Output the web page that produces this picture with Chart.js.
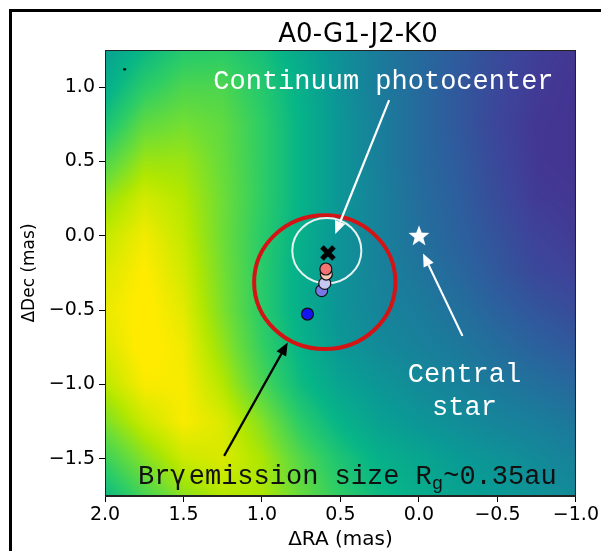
<!DOCTYPE html>
<html>
<head>
<meta charset="utf-8">
<script src="https://cdn.jsdelivr.net/npm/chart.js@4.4.1/dist/chart.umd.min.js"></script>
<style>
  html, body { margin: 0; padding: 0; background: #fff; }
  #wrap { position: relative; width: 601px; height: 551px; }
</style>
</head>
<body>
<div id="wrap"><canvas id="mapa" width="601" height="551"></canvas></div>
<script>
// ---- data ----
const chartTitle = "A0-G1-J2-K0";
const raTicks = [2.0, 1.5, 1.0, 0.5, 0.0, -0.5, -1.0];
const decTicks = [1.0, 0.5, 0.0, -0.5, -1.0, -1.5];

// intensity map nodes (RA columns, Dec rows), normalised 0..1
const mapRA = [2.0, 1.75, 1.5, 1.25, 1.0, 0.75, 0.5, 0.25, 0.0, -0.25, -0.5, -0.75, -1.0];
const mapDec = [1.25, 1.0, 0.75, 0.5, 0.25, 0.0, -0.25, -0.5, -0.75, -1.0, -1.25, -1.5, -1.75];
const mapValues = [
  [0.52, 0.61, 0.68, 0.69, 0.64, 0.55, 0.46, 0.39, 0.33, 0.28, 0.23, 0.19, 0.17],
  [0.57, 0.69, 0.75, 0.75, 0.68, 0.58, 0.47, 0.39, 0.33, 0.27, 0.22, 0.18, 0.16],
  [0.65, 0.78, 0.81, 0.78, 0.70, 0.59, 0.48, 0.40, 0.33, 0.27, 0.21, 0.17, 0.16],
  [0.75, 0.86, 0.86, 0.79, 0.70, 0.59, 0.48, 0.40, 0.33, 0.28, 0.22, 0.17, 0.16],
  [0.85, 0.93, 0.89, 0.80, 0.70, 0.59, 0.48, 0.41, 0.34, 0.29, 0.23, 0.18, 0.17],
  [0.91, 0.97, 0.91, 0.80, 0.69, 0.58, 0.47, 0.41, 0.35, 0.30, 0.25, 0.20, 0.18],
  [0.94, 0.99, 0.93, 0.81, 0.69, 0.57, 0.47, 0.41, 0.37, 0.32, 0.27, 0.22, 0.20],
  [0.96, 1.00, 0.95, 0.82, 0.69, 0.57, 0.47, 0.42, 0.39, 0.35, 0.30, 0.26, 0.23],
  [0.94, 1.00, 0.97, 0.85, 0.71, 0.59, 0.49, 0.44, 0.41, 0.38, 0.34, 0.30, 0.27],
  [0.90, 0.98, 0.98, 0.89, 0.75, 0.62, 0.53, 0.48, 0.44, 0.41, 0.38, 0.35, 0.32],
  [0.82, 0.92, 0.98, 0.94, 0.83, 0.69, 0.59, 0.52, 0.48, 0.45, 0.42, 0.40, 0.37],
  [0.72, 0.83, 0.92, 0.94, 0.88, 0.76, 0.66, 0.58, 0.54, 0.50, 0.47, 0.44, 0.41],
  [0.62, 0.74, 0.84, 0.89, 0.88, 0.79, 0.70, 0.62, 0.57, 0.53, 0.50, 0.47, 0.44],
];

// central star and continuum photocenter
const starRA = [0.0];
const starDec = [0.0];
const photoRA = [0.58];
const photoDec = [-0.115];

// Br-gamma photocenter shifts per channel
const brgRA = [0.71, 0.62, 0.60, 0.59, 0.593];
const brgDec = [-0.526, -0.369, -0.32, -0.257, -0.223];
const brgColors = ["#1414f0", "#7878e6", "#c6c6f0", "#f6c6b6", "#f27472"];

// emission size circle and photocenter error circle (mas)
const circleRA = [0.60, 0.587];
const circleDec = [-0.312, -0.10];
const circleRad = [0.45, 0.22];

// ---- styles / annotation layout ----
const tickFont = { family: "DejaVu Sans", size: 19 };
const monoFont = "27px 'Liberation Mono', 'Courier New', monospace";
const mapSaturation = 1.3;
const circleStyle = [
  { color: "#d41414", width: 4 },
  { color: "#e4f2f0", width: 2 },
];
const arrows = [
  { from: [0.19, 0.913], to: [0.533, 0.012], color: "#ffffff" },
  { from: [-0.277, -0.673], to: [-0.026, -0.118], color: "#ffffff" },
  { from: [1.241, -1.48], to: [0.836, -0.718], color: "#000000" },
];

const viridisStops = ["#440154", "#482475", "#414487", "#355f8d", "#2a788e", "#21918c",
  "#22a884", "#44bf70", "#7ad151", "#bddf26", "#fde725"];
const viridisRGB = viridisStops.map((h) => [
  parseInt(h.slice(1, 3), 16), parseInt(h.slice(3, 5), 16), parseInt(h.slice(5, 7), 16)]);

function viridis(v) {
  const s = Math.max(0, Math.min(1, v)) * 10;
  const i = Math.min(9, Math.floor(s));
  const t = s - i;
  const a = viridisRGB[i], b = viridisRGB[i + 1];
  const c = [a[0] + (b[0] - a[0]) * t, a[1] + (b[1] - a[1]) * t, a[2] + (b[2] - a[2]) * t];
  // push the colours a bit more vivid
  const gray = 0.3 * c[0] + 0.59 * c[1] + 0.11 * c[2];
  return c.map((ch) => Math.max(0, Math.min(255, gray + (ch - gray) * mapSaturation)));
}

function fracIndex(arr, v) {
  const n = arr.length;
  const t = ((v - arr[0]) / (arr[n - 1] - arr[0])) * (n - 1);
  return Math.min(n - 1, Math.max(0, t));
}

function sampleMap(ra, dec) {
  const fx = fracIndex(mapRA, ra), fy = fracIndex(mapDec, dec);
  const i0 = Math.min(mapRA.length - 2, Math.floor(fx)), j0 = Math.min(mapDec.length - 2, Math.floor(fy));
  const tx = fx - i0, ty = fy - j0;
  const r0 = mapValues[j0], r1 = mapValues[j0 + 1];
  const top = r0[i0] * (1 - tx) + r0[i0 + 1] * tx;
  const bot = r1[i0] * (1 - tx) + r1[i0 + 1] * tx;
  return top * (1 - ty) + bot * ty;
}

function fmtTick(v) {
  return Number(v).toFixed(1).replace("-", "\u2212");
}

// marker images
function makeStar() {
  const c = document.createElement("canvas");
  c.width = 26; c.height = 26;
  const g = c.getContext("2d");
  g.beginPath();
  for (let k = 0; k < 10; k++) {
    const r = k % 2 === 0 ? 11 : 4.6;
    const a = -Math.PI / 2 + (k * Math.PI) / 5;
    const px = 13 + r * Math.cos(a), py = 13.5 + r * Math.sin(a);
    if (k === 0) g.moveTo(px, py); else g.lineTo(px, py);
  }
  g.closePath();
  g.fillStyle = "#ffffff";
  g.fill();
  return c;
}

function makeCross() {
  const c = document.createElement("canvas");
  c.width = 20; c.height = 20;
  const g = c.getContext("2d");
  g.strokeStyle = "#000";
  g.lineWidth = 5;
  g.beginPath();
  g.moveTo(4, 4); g.lineTo(16, 16);
  g.moveTo(16, 4); g.lineTo(4, 16);
  g.stroke();
  return c;
}

// ---- drawing helpers ----
let mapCache = null;

function drawMap(chart) {
  const { ctx, chartArea: a, scales: { x, y } } = chart;
  const w = Math.round(a.right - a.left), h = Math.round(a.bottom - a.top);
  if (!mapCache || mapCache.width !== w || mapCache.height !== h) {
    mapCache = document.createElement("canvas");
    mapCache.width = w; mapCache.height = h;
    const g = mapCache.getContext("2d");
    const img = g.createImageData(w, h);
    for (let j = 0; j < h; j++) {
      const dec = y.getValueForPixel(a.top + j + 0.5);
      for (let i = 0; i < w; i++) {
        const ra = x.getValueForPixel(a.left + i + 0.5);
        const c = viridis(sampleMap(ra, dec));
        const k = (j * w + i) * 4;
        img.data[k] = c[0]; img.data[k + 1] = c[1]; img.data[k + 2] = c[2]; img.data[k + 3] = 255;
      }
    }
    g.putImageData(img, 0, 0);
  }
  ctx.drawImage(mapCache, a.left, a.top);
}

function drawCircles(chart) {
  const { ctx, scales: { x, y } } = chart;
  circleRA.forEach((ra, i) => {
    const cx = x.getPixelForValue(ra), cy = y.getPixelForValue(circleDec[i]);
    const rx = Math.abs(x.getPixelForValue(ra + circleRad[i]) - cx);
    const ry = Math.abs(y.getPixelForValue(circleDec[i] + circleRad[i]) - cy);
    ctx.save();
    ctx.strokeStyle = circleStyle[i].color;
    ctx.lineWidth = circleStyle[i].width;
    ctx.beginPath();
    ctx.ellipse(cx, cy, rx, ry, 0, 0, Math.PI * 2);
    ctx.stroke();
    ctx.restore();
  });
}

function drawArrows(chart) {
  const { ctx, scales: { x, y } } = chart;
  arrows.forEach((ar) => {
    const x1 = x.getPixelForValue(ar.from[0]), y1 = y.getPixelForValue(ar.from[1]);
    const x2 = x.getPixelForValue(ar.to[0]), y2 = y.getPixelForValue(ar.to[1]);
    const ang = Math.atan2(y2 - y1, x2 - x1);
    const hl = 13, hw = 5.5;
    const bx = x2 - hl * Math.cos(ang), by = y2 - hl * Math.sin(ang);
    ctx.save();
    ctx.strokeStyle = ar.color;
    ctx.fillStyle = ar.color;
    ctx.lineWidth = 2.2;
    ctx.beginPath();
    ctx.moveTo(x1, y1);
    ctx.lineTo(bx, by);
    ctx.stroke();
    ctx.beginPath();
    ctx.moveTo(x2, y2);
    ctx.lineTo(bx + hw * Math.sin(ang), by - hw * Math.cos(ang));
    ctx.lineTo(bx - hw * Math.sin(ang), by + hw * Math.cos(ang));
    ctx.closePath();
    ctx.fill();
    ctx.restore();
  });
}

function drawLabels(chart) {
  const { ctx, scales: { x, y } } = chart;
  ctx.save();
  ctx.font = monoFont;
  ctx.textBaseline = "alphabetic";

  ctx.fillStyle = "#ffffff";
  ctx.textAlign = "left";
  ctx.fillText("Continuum photocenter", x.getPixelForValue(1.31), y.getPixelForValue(0.99));

  ctx.textAlign = "center";
  ctx.fillText("Central", x.getPixelForValue(-0.29), y.getPixelForValue(-0.98));
  ctx.fillText("star", x.getPixelForValue(-0.29), y.getPixelForValue(-1.205));

  // Br-gamma label with greek letter and subscript
  ctx.fillStyle = "#111111";
  ctx.textAlign = "left";
  let px = x.getPixelForValue(1.79);
  const base = y.getPixelForValue(-1.67);
  ctx.fillText("Br", px, base);
  px += ctx.measureText("Br").width;
  ctx.font = "26px 'DejaVu Sans'";
  ctx.fillText("\u03b3", px, base);
  px += ctx.measureText("\u03b3").width + 3;
  ctx.font = monoFont;
  ctx.fillText("emission size R", px, base);
  px += ctx.measureText("emission size R").width;
  ctx.font = "19px 'Liberation Mono', monospace";
  ctx.fillText("g", px, base + 5);
  px += ctx.measureText("g").width;
  ctx.font = monoFont;
  ctx.fillText("~0.35au", px, base);

  // small tick mark near the top-left corner
  ctx.fillStyle = "#000";
  ctx.fillRect(x.getPixelForValue(1.875) - 1.5, y.getPixelForValue(1.12) - 1, 3, 2);
  ctx.restore();
}

function drawFrame(chart) {
  const { ctx, chartArea: a } = chart;
  ctx.save();
  ctx.strokeStyle = "#222";
  ctx.lineWidth = 1;
  ctx.strokeRect(a.left + 0.5, a.top + 0.5, a.right - a.left - 1, a.bottom - a.top - 1);
  ctx.restore();
}

const mapPlugin = {
  id: "mapa",
  beforeDatasetsDraw(chart) {
    drawMap(chart);
    drawCircles(chart);
  },
  afterDatasetsDraw(chart) {
    drawArrows(chart);
    drawLabels(chart);
    drawFrame(chart);
  },
  afterDraw(chart) {
    const ctx = chart.ctx;
    ctx.save();
    // figure border
    ctx.fillStyle = "#000";
    ctx.fillRect(9, 9, 3, 542);
    ctx.fillRect(9, 9, 592, 3);
    // title
    ctx.font = "26px 'DejaVu Sans'";
    ctx.textAlign = "center";
    ctx.textBaseline = "alphabetic";
    ctx.fillText(chartTitle, 358, 42);
    ctx.restore();
  },
};

const ctx = document.getElementById("mapa").getContext("2d");
const grafico = new Chart(ctx, {
  type: "scatter",
  data: {
    datasets: [
      {
        label: "Br\u03b3",
        data: brgRA.map((ra, i) => ({ x: ra, y: brgDec[i] })),
        pointBackgroundColor: brgColors,
        pointBorderColor: "#111",
        pointBorderWidth: 1.2,
        pointRadius: 6,
      },
      {
        label: "Continuum photocenter",
        data: photoRA.map((ra, i) => ({ x: ra, y: photoDec[i] })),
        pointStyle: makeCross(),
      },
      {
        label: "Central star",
        data: starRA.map((ra, i) => ({ x: ra, y: starDec[i] })),
        pointStyle: makeStar(),
      },
    ],
  },
  options: {
    responsive: false,
    animation: false,
    events: [],
    layout: { padding: { top: 50, right: 25, bottom: 0, left: 0 } },
    plugins: {
      legend: { display: false },
      tooltip: { enabled: false },
      title: { display: false },
    },
    scales: {
      x: {
        type: "linear",
        min: -1,
        max: 2,
        reverse: true,
        afterBuildTicks: (s) => { s.ticks = raTicks.map((v) => ({ value: v })); },
        afterFit: (s) => { s.height = 55; },
        ticks: { callback: (v) => fmtTick(v), font: tickFont, color: "#000", padding: 2, maxRotation: 0, autoSkip: false },
        grid: { drawOnChartArea: false, tickLength: 6, color: "#000" },
        border: { color: "#222" },
        title: { display: true, text: "\u0394RA (mas)", font: { family: "DejaVu Sans", size: 20 }, color: "#000", padding: { top: 0, bottom: -1 } },
      },
      y: {
        type: "linear",
        min: -1.75,
        max: 1.25,
        afterBuildTicks: (s) => { s.ticks = decTicks.map((v) => ({ value: v })); },
        afterFit: (s) => { s.width = 105; },
        ticks: { callback: (v) => fmtTick(v), font: tickFont, color: "#000", padding: 4, autoSkip: false },
        grid: { drawOnChartArea: false, tickLength: 6, color: "#000" },
        border: { color: "#222" },
        title: { display: true, text: "\u0394Dec (mas)", font: { family: "DejaVu Sans", size: 17 }, color: "#000", padding: { top: 19, bottom: 0 } },
      },
    },
  },
  plugins: [mapPlugin],
});
</script>
</body>
</html>
